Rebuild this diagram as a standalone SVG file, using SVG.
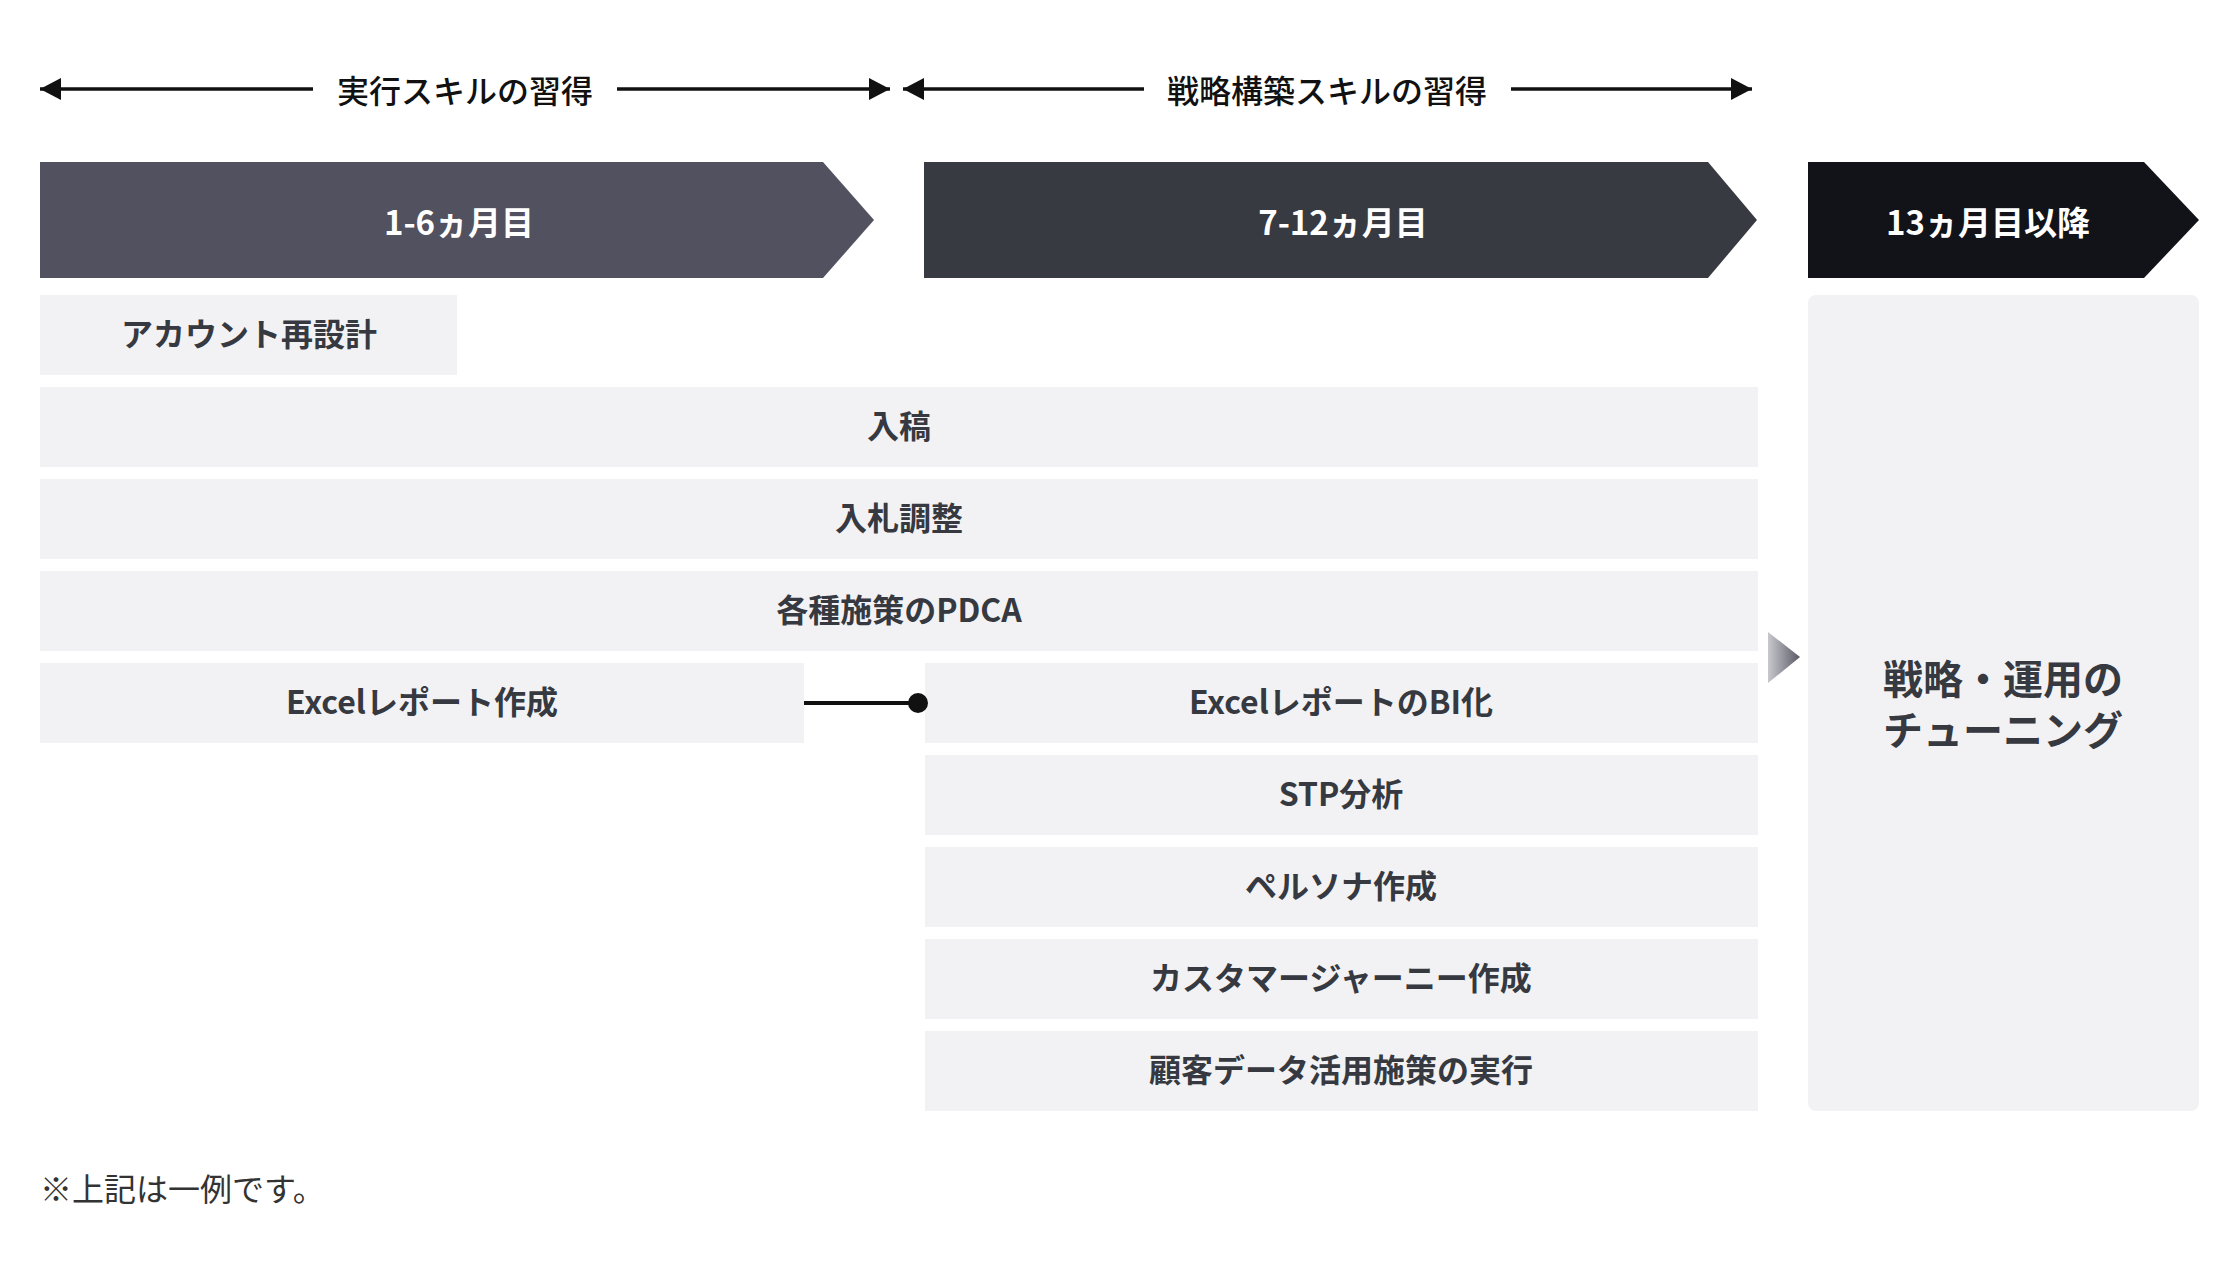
<svg xmlns="http://www.w3.org/2000/svg" width="2240" height="1279" viewBox="0 0 2240 1279">
<style>
.lbl{font-family:"Noto Sans CJK JP","Noto Sans",sans-serif;font-weight:700;font-size:32px;fill:#36393f;text-anchor:middle;dominant-baseline:central}
.ph{font-family:"Noto Sans CJK JP","Noto Sans",sans-serif;font-weight:700;font-size:33px;fill:#ffffff;text-anchor:middle;dominant-baseline:central}
.top{font-family:"Noto Sans CJK JP","Noto Sans",sans-serif;font-weight:500;font-size:32px;fill:#111111;text-anchor:middle;dominant-baseline:central}
.row{fill:#f2f2f4}
.big{font-family:"Noto Sans CJK JP","Noto Sans",sans-serif;font-weight:700;font-size:40px;fill:#36393f;text-anchor:middle;dominant-baseline:central}
.note{font-family:"Noto Sans CJK JP","Noto Sans",sans-serif;font-weight:400;font-size:32px;fill:#333333;dominant-baseline:central}
.ln{stroke:#111111;stroke-width:3.5;fill:none}
</style>
<defs>
<marker id="ah" viewBox="0 0 21 22" refX="21" refY="11" markerWidth="21" markerHeight="22" markerUnits="userSpaceOnUse" orient="auto-start-reverse">
<path d="M0,0 L21,11 L0,22 Z" fill="#111111"/>
</marker>
<linearGradient id="tg" x1="0" y1="0" x2="1" y2="0">
<stop offset="0" stop-color="#c8c8ce"/>
<stop offset="1" stop-color="#5a5a66"/>
</linearGradient>
</defs>
<rect width="2240" height="1279" fill="#ffffff"/>

<g id="span-exec">
<line class="ln" x1="40" y1="89" x2="313" y2="89" marker-start="url(#ah)"/>
<line class="ln" x1="617" y1="89" x2="890" y2="89" marker-end="url(#ah)"/>
<text class="top" x="465" y="89">実行スキルの習得</text>
</g>
<g id="span-strategy">
<line class="ln" x1="903" y1="89" x2="1144" y2="89" marker-start="url(#ah)"/>
<line class="ln" x1="1511" y1="89" x2="1752" y2="89" marker-end="url(#ah)"/>
<text class="top" x="1327" y="89">戦略構築スキルの習得</text>
</g>

<g id="phase1">
<polygon points="40,162 823,162 874,220 823,278 40,278" fill="#52515f"/>
<text class="ph" x="459" y="220.5">1-6ヵ月目</text>
</g>
<g id="phase2">
<polygon points="924,162 1708,162 1757,220 1708,278 924,278" fill="#373a40"/>
<text class="ph" x="1343" y="220.5">7-12ヵ月目</text>
</g>
<g id="phase3">
<polygon points="1808,162 2144,162 2199,220 2144,278 1808,278" fill="#121219"/>
<text class="ph" x="1988" y="220.5">13ヵ月目以降</text>
</g>

<g id="account">
<rect class="row" x="40" y="295" width="417" height="80"/>
<text class="lbl" x="249" y="332">アカウント再設計</text>
</g>
<g id="nyuko">
<rect class="row" x="40" y="387" width="1718" height="80"/>
<text class="lbl" x="899" y="424">入稿</text>
</g>
<g id="nyusatsu">
<rect class="row" x="40" y="479" width="1718" height="80"/>
<text class="lbl" x="899" y="516">入札調整</text>
</g>
<g id="pdca">
<rect class="row" x="40" y="571" width="1718" height="80"/>
<text class="lbl" x="899" y="608">各種施策のPDCA</text>
</g>
<g id="excel">
<rect class="row" x="40" y="663" width="764" height="80"/>
<text class="lbl" x="422" y="700">Excelレポート作成</text>
</g>
<g id="excel-bi">
<rect class="row" x="925" y="663" width="833" height="80"/>
<text class="lbl" x="1341" y="700">ExcelレポートのBI化</text>
</g>
<g id="stp">
<rect class="row" x="925" y="755" width="833" height="80"/>
<text class="lbl" x="1341" y="792">STP分析</text>
</g>
<g id="persona">
<rect class="row" x="925" y="847" width="833" height="80"/>
<text class="lbl" x="1341" y="884">ペルソナ作成</text>
</g>
<g id="journey">
<rect class="row" x="925" y="939" width="833" height="80"/>
<text class="lbl" x="1341" y="976">カスタマージャーニー作成</text>
</g>
<g id="customer-data">
<rect class="row" x="925" y="1031" width="833" height="80"/>
<text class="lbl" x="1341" y="1068">顧客データ活用施策の実行</text>
</g>

<g id="tuning">
<rect class="row" x="1808" y="295" width="391" height="816" rx="8" ry="8"/>
<text class="big" x="2003" y="677"><tspan x="2003" y="677">戦略・運用の</tspan><tspan x="2003" y="728">チューニング</tspan></text>
</g>

<g id="connectors">
<line x1="804" y1="703" x2="918" y2="703" stroke="#111111" stroke-width="4"/>
<circle cx="918" cy="703" r="10" fill="#111111"/>
<polygon points="1768,632 1800,657 1768,683" fill="url(#tg)"/>
</g>

<text class="note" x="40" y="1187">※上記は一例です。</text>
</svg>
